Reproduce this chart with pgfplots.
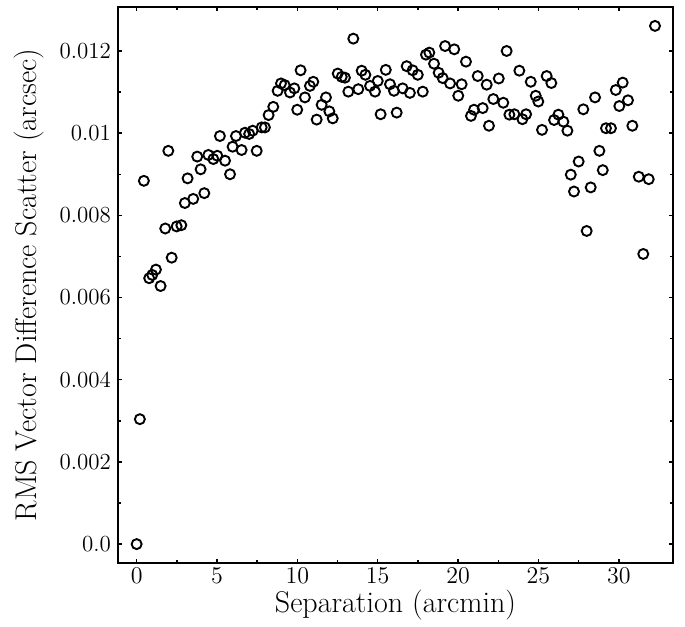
\documentclass[border=0pt]{standalone}
\usepackage{pgfplots}
\pgfplotsset{compat=1.18}
\begin{document}
\begin{tikzpicture}
\begin{axis}[
  scale only axis,
  width=277.5pt, height=278pt,
  xmin=-1.16, xmax=33.37,
  ymin=-0.00046, ymax=0.01307,
  axis line style={line width=1.05pt},
  tick pos=both, tick align=inside,
  major tick length=2.2pt, minor tick length=1.3pt,
  every tick/.style={line width=0.7pt, black},
  xtick={0,5,10,15,20,25,30},
  minor x tick num=1,
  ytick={0,0.002,0.004,0.006,0.008,0.010,0.012},
  yticklabels={0.0,0.002,0.004,0.006,0.008,0.01,0.012},
  minor y tick num=1,
  scaled y ticks=false,
  tick label style={font=\fontsize{11.5}{13}\selectfont},
  xticklabel style={yshift=1pt},
  label style={font=\fontsize{15}{18}\selectfont},
  xlabel={Separation (arcmin)},
  ylabel={RMS Vector Difference Scatter (arcsec)},
  xlabel style={yshift=3.5pt},
  ylabel style={yshift=1pt},
]
\addplot[only marks, mark=o, mark size=2.5pt, line width=0.95pt, black] coordinates {
(0,0) (0.2,0.00304) (0.45,0.00884) (0.78,0.00647) (0.97,0.00655) (1.20,0.00668)
(1.49,0.00628) (1.78,0.00768) (1.97,0.00957) (2.18,0.00697) (2.49,0.00773)
(2.78,0.00776) (3.00,0.00830) (3.17,0.00890) (3.52,0.00840) (3.77,0.00943)
(3.98,0.00912) (4.21,0.00854) (4.46,0.00947) (4.77,0.00937) (5.02,0.00945)
(5.18,0.00993) (5.50,0.00933) (5.81,0.00900) (5.97,0.00967) (6.18,0.00993)
(6.53,0.00959) (6.74,0.01001) (7.00,0.00998) (7.22,0.01006) (7.47,0.00957)
(7.78,0.01014) (7.98,0.01014) (8.21,0.01044) (8.50,0.01064) (8.77,0.01103)
(8.98,0.01121) (9.21,0.01117) (9.54,0.01099) (9.81,0.01109) (9.99,0.01057)
(10.20,0.01153) (10.47,0.01087) (10.78,0.01115) (10.99,0.01125) (11.20,0.01033)
(11.51,0.01069) (11.78,0.01087) (11.99,0.01053) (12.20,0.01036) (12.51,0.01145)
(12.76,0.01137) (12.96,0.01135) (13.17,0.01101) (13.48,0.01230) (13.79,0.01107)
(14.00,0.01152) (14.23,0.01142) (14.52,0.01115) (14.83,0.01101) (15.00,0.01127)
(15.18,0.01046) (15.50,0.01154) (15.76,0.01119) (16.01,0.01103) (16.18,0.01050)
(16.55,0.01109) (16.80,0.01163) (17.00,0.01098) (17.17,0.01153) (17.49,0.01142)
(17.80,0.01101) (18.00,0.01191) (18.21,0.01196) (18.50,0.01169) (18.79,0.01147)
(19.04,0.01134) (19.19,0.01212) (19.50,0.01121) (19.76,0.01204) (20.01,0.01091)
(20.22,0.01119) (20.49,0.01174) (20.80,0.01042) (20.99,0.01057) (21.22,0.01139)
(21.53,0.01061) (21.78,0.01118) (21.92,0.01018) (22.19,0.01083) (22.53,0.01133)
(22.81,0.01074) (23.02,0.01200) (23.19,0.01045) (23.50,0.01046) (23.81,0.01152)
(24.00,0.01034) (24.23,0.01046) (24.52,0.01125) (24.83,0.01091) (24.99,0.01077)
(25.22,0.01008) (25.51,0.01139) (25.80,0.01122) (25.97,0.01032) (26.24,0.01045)
(26.55,0.01028) (26.80,0.01006) (27.01,0.00899) (27.21,0.00858) (27.50,0.00931)
(27.79,0.01058) (28.00,0.00762) (28.25,0.00868) (28.52,0.01087) (28.79,0.00957)
(29.00,0.00910) (29.20,0.01012) (29.51,0.01012) (29.81,0.01105) (30.03,0.01066)
(30.24,0.01123) (30.57,0.01080) (30.84,0.01018) (31.24,0.00894) (31.52,0.00706)
(31.86,0.00888) (32.25,0.01261)
};
\end{axis}
\path (current axis.north east) -- ++(6pt,3.5pt);
\path (current axis.south west) -- ++(-59pt,0pt);
\end{tikzpicture}
\end{document}
